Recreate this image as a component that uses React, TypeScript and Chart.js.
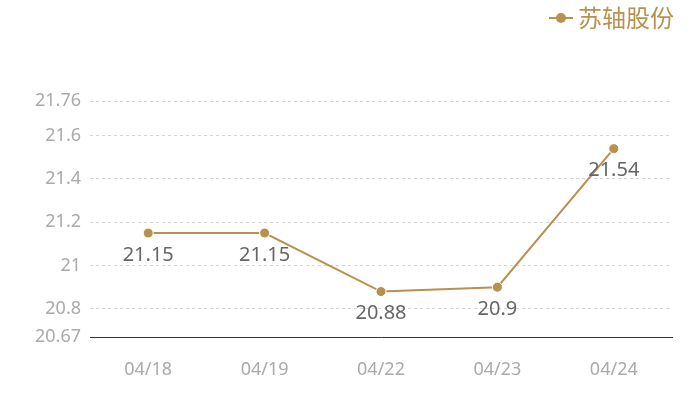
import React, { useEffect, useRef } from "react";
import { Chart, registerables } from "chart.js";

Chart.register(...registerables);

const categories = ["04/18", "04/19", "04/22", "04/23", "04/24"];
const seriesName = "苏轴股份";
const values = [21.15, 21.15, 20.88, 20.9, 21.54];
const yTicks = [20.67, 20.8, 21, 21.2, 21.4, 21.6, 21.76];
const yMin = 20.67;
const yMax = 21.76;

const GOLD = "#b8914f";
const FONT = "'Noto Sans', 'Noto Sans CJK SC', sans-serif";

const labelPlugin = {
  id: "valueLabels",
  afterDatasetsDraw(chart: any) {
    const ctx = chart.ctx;
    const meta = chart.getDatasetMeta(0);
    ctx.save();
    ctx.font = `20px ${FONT}`;
    ctx.fillStyle = "#666666";
    ctx.textAlign = "center";
    ctx.textBaseline = "middle";
    meta.data.forEach((pt: any, i: number) => {
      ctx.fillText(String(values[i]), pt.x, pt.y + 22);
    });
    ctx.restore();
  },
};

const legendPlugin = {
  id: "customLegend",
  afterDraw(chart: any) {
    const ctx = chart.ctx;
    ctx.save();
    const cy = 18;
    ctx.strokeStyle = GOLD;
    ctx.lineWidth = 2;
    ctx.beginPath();
    ctx.moveTo(549, cy);
    ctx.lineTo(573, cy);
    ctx.stroke();
    ctx.fillStyle = GOLD;
    ctx.beginPath();
    ctx.arc(561, cy, 5, 0, Math.PI * 2);
    ctx.fill();
    ctx.font = `24px 'Noto Sans CJK SC', sans-serif`;
    ctx.textAlign = "left";
    ctx.textBaseline = "middle";
    ctx.fillText(seriesName, 578, cy);
    ctx.restore();
  },
};

export default function App() {
  const ref = useRef<HTMLCanvasElement | null>(null);
  useEffect(() => {
    if (!ref.current) return;
    const chart = new Chart(ref.current, {
      type: "line",
      data: {
        labels: categories,
        datasets: [
          {
            label: seriesName,
            data: values,
            borderColor: GOLD,
            backgroundColor: GOLD,
            borderWidth: 2,
            pointRadius: 5,
            pointBackgroundColor: GOLD,
            pointBorderColor: "#ffffff",
            pointBorderWidth: 1,
            tension: 0,
          },
        ],
      },
      options: {
        animation: false,
        responsive: true,
        maintainAspectRatio: false,
        layout: { padding: { top: 101, right: 28, left: 0, bottom: 0 } },
        plugins: { legend: { display: false }, tooltip: { enabled: false } },
        scales: {
          x: {
            offset: true,
            grid: { display: false, drawTicks: false },
            border: { display: true, color: "#333333", width: 1 },
            ticks: {
              color: "#aaaaaa",
              font: { family: FONT, size: 18 },
              padding: 22,
            },
            afterFit: (s: any) => {
              s.height = 63;
            },
          },
          y: {
            min: yMin,
            max: yMax,
            border: { display: false, dash: [3, 3] },
            grid: {
              drawTicks: false,
              color: (c: any) =>
                c.tick && Math.abs(c.tick.value - yMin) < 1e-6 ? "rgba(0,0,0,0)" : "#d4d4d4",
              lineWidth: 1,
            },
            ticks: {
              color: "#aaaaaa",
              font: { family: FONT, size: 18 },
              padding: 9,
              callback: (v: any) => String(Math.round(Number(v) * 100) / 100),
            },
            afterBuildTicks: (s: any) => {
              s.ticks = yTicks.map((v) => ({ value: v }));
            },
            afterFit: (s: any) => {
              s.width = 90;
            },
          },
        },
      },
      plugins: [labelPlugin, legendPlugin],
    } as any);
    return () => chart.destroy();
  }, []);
  return (
    <div style={{ position: "fixed", left: 0, top: 0, width: 700, height: 400, background: "#fff" }}>
      <canvas ref={ref} />
    </div>
  );
}
